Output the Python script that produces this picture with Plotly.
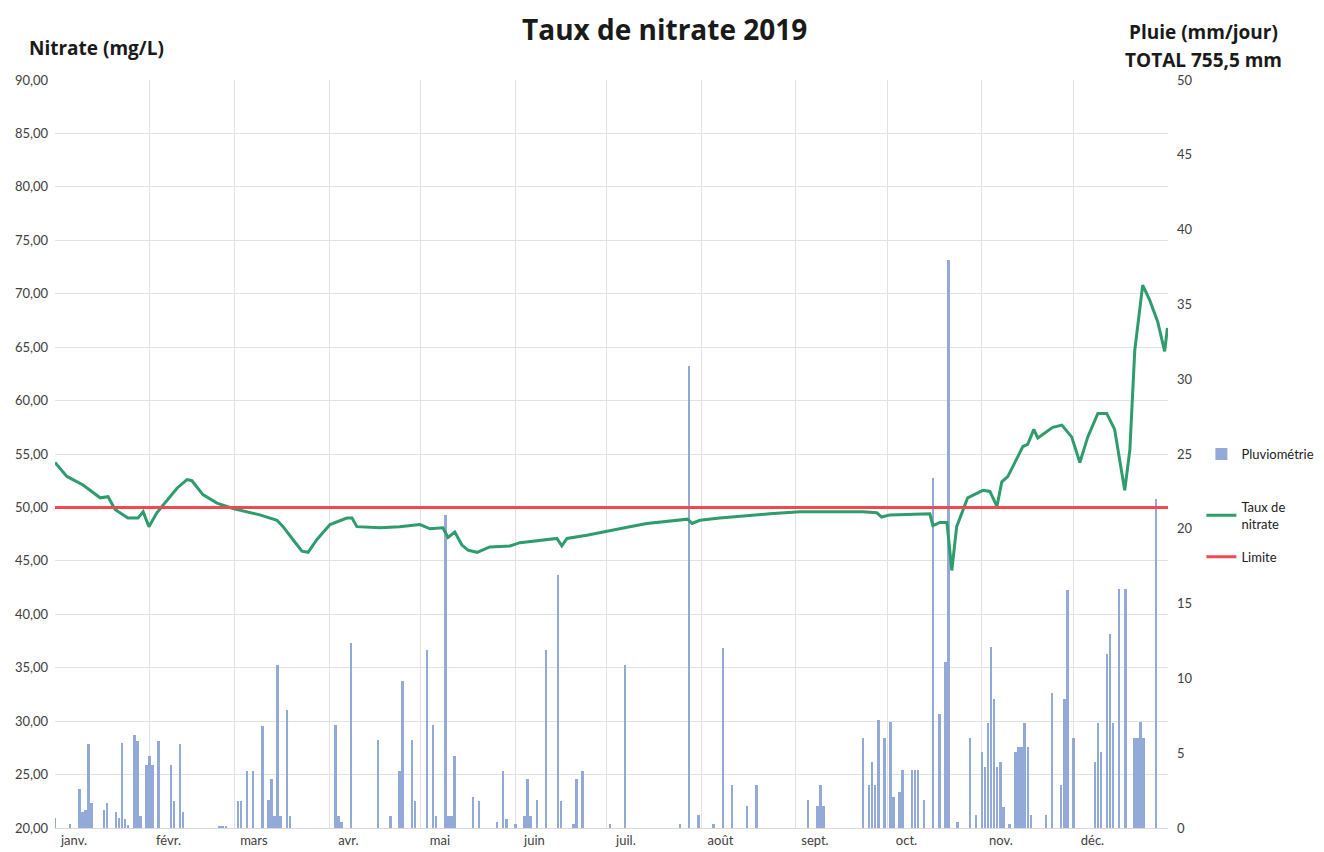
import plotly.graph_objects as go

# Jour de l'année (0 = 1er janvier 2019)
mois_debut = [0, 31, 59, 90, 120, 151, 181, 212, 243, 273, 304, 334]
mois_noms = ["janv.", "févr.", "mars", "avr.", "mai", "juin",
             "juil.", "août", "sept.", "oct.", "nov.", "déc."]

# Pluviométrie (mm/jour)
pluie_jour = [0, 5, 8, 9, 10, 11, 12, 16, 17, 20, 21, 22, 23, 24, 26, 27, 28,
              30, 31, 32, 34, 38, 39, 41, 42, 54, 55, 56, 60, 61, 63, 65, 68,
              70, 71, 72, 73, 74, 76, 77, 92, 93, 94, 97, 106, 110, 113, 114,
              117, 118, 122, 124, 125, 128, 129, 130, 131, 137, 139, 145, 147,
              148, 151, 154, 155, 156, 158, 161, 165, 166, 170, 171, 173, 182,
              187, 205, 208, 211, 216, 219, 222, 227, 230, 247, 250, 251, 252,
              265, 267, 268, 269, 270, 272, 274, 275, 277, 278, 281, 282, 283,
              285, 288, 290, 292, 293, 296, 300, 302, 304, 305, 306, 307, 308,
              309, 310, 311, 313, 315, 316, 317, 318, 319, 320, 325, 327, 330,
              331, 332, 334, 341, 342, 343, 345, 346, 347, 349, 351, 354, 355,
              356, 357, 361]
pluie_mm = [0.7, 0.3, 2.6, 1.1, 1.2, 5.6, 1.7, 1.2, 1.7, 1.1, 0.7, 5.7, 0.6, 0.2,
            6.2, 5.8, 0.8, 4.2, 4.8, 4.2, 5.8, 4.2, 1.8, 5.6, 1.1, 0.1, 0.1, 0.1,
            1.8, 1.8, 3.8, 3.8, 6.8, 1.9, 3.3, 0.8, 10.9, 0.8, 7.9, 0.8, 6.9,
            0.8, 0.4, 12.4, 5.9, 0.8, 3.8, 9.8, 5.9, 1.8, 11.9, 6.9, 0.8, 20.9,
            0.8, 0.8, 4.8, 2.1, 1.8, 0.4, 3.8, 0.6, 0.3, 0.8, 3.3, 0.8, 1.9,
            11.9, 16.9, 1.8, 0.3, 3.3, 3.8, 0.3, 10.9, 0.3, 30.9, 0.9, 0.3,
            12.0, 2.9, 1.5, 2.9, 1.9, 1.5, 2.9, 1.5, 6.0, 2.9, 4.4, 2.9, 7.2,
            6.0, 7.1, 2.1, 2.4, 3.9, 3.9, 3.9, 3.9, 1.9, 23.4, 7.6, 11.1, 38.0,
            0.4, 6.0, 0.9, 5.1, 4.1, 7.0, 12.1, 8.6, 4.1, 4.4, 1.4, 0.3, 5.1,
            5.4, 5.4, 7.0, 5.4, 0.9, 0.9, 9.0, 2.9, 8.6, 15.9, 6.0, 4.4, 7.0,
            5.1, 11.6, 13.0, 7.0, 16.0, 16.0, 6.0, 6.0, 7.1, 6.0, 22.0]

# Taux de nitrate (mg/L)
nitrate_jour = [0, 3.9, 9.2, 14.8, 17.4, 19.7, 23.9, 27.2, 28.9, 30.8, 33.4,
                36.7, 40, 43.3, 44.9, 48.5, 53.1, 58.4, 67.2, 72.8, 74.8, 78,
                81, 83, 85.9, 90.2, 95.7, 97.4, 99, 106.6, 113, 119.7, 123,
                127.2, 128.9, 131.1, 133.4, 135.4, 138.4, 142.6, 149.2, 152.5,
                161.3, 164.6, 166.2, 167.9, 174.4, 181, 188.5, 194.1, 201.6,
                207.5, 208.9, 211.5, 218, 225.6, 234.4, 244.3, 254.1, 264.9,
                269.5, 271.1, 273.8, 286.9, 287.9, 290.2, 292.5, 294.1, 295.7,
                299.3, 304.3, 306.6, 308.9, 310.5, 312.5, 317.4, 319, 321,
                322.3, 327.2, 330.2, 333.4, 336.1, 338.7, 342, 344.9, 347.5,
                350.8, 352.5, 354.1, 356.7, 359, 361.6, 363.9, 364.8]
nitrate_val = [54.2, 52.9, 52.1, 50.9, 51.0, 49.8, 49.0, 49.0, 49.6, 48.2, 49.5,
               50.7, 51.8, 52.6, 52.5, 51.2, 50.4, 49.9, 49.3, 48.8, 48.2, 47.0,
               45.9, 45.8, 47.0, 48.4, 49.0, 49.0, 48.2, 48.1, 48.2, 48.4, 48.0,
               48.1, 47.2, 47.7, 46.5, 46.0, 45.8, 46.3, 46.4, 46.7, 47.0, 47.1,
               46.4, 47.1, 47.4, 47.8, 48.2, 48.5, 48.7, 48.9, 48.5, 48.8, 49.0,
               49.2, 49.4, 49.6, 49.6, 49.6, 49.5, 49.1, 49.3, 49.4, 48.3, 48.6,
               48.6, 44.1, 48.2, 50.9, 51.6, 51.5, 50.1, 52.4, 52.9, 55.7, 55.9,
               57.3, 56.5, 57.5, 57.7, 56.6, 54.2, 56.6, 58.8, 58.8, 57.3, 51.6,
               55.4, 64.7, 70.8, 69.4, 67.4, 64.6, 66.8]

limite_jour = [0, 365]
limite_val = [50, 50]

police = "Lato, 'Open Sans', sans-serif"
police_titre = "'Open Sans', Lato, sans-serif"

fig = go.Figure()
fig.add_trace(go.Bar(x=pluie_jour, y=pluie_mm, name="Pluviométrie", width=0.8,
                     marker=dict(color="#93AAD8", line=dict(width=0)),
                     yaxis="y", legendgroup="a"))
fig.add_trace(go.Scatter(x=nitrate_jour, y=nitrate_val, name="Taux de<br>nitrate",
                         mode="lines", line=dict(color="#2E9C6C", width=3),
                         yaxis="y2", legendgroup="b"))
fig.add_trace(go.Scatter(x=limite_jour, y=limite_val, name="Limite", mode="lines",
                         line=dict(color="#F2484F", width=3),
                         yaxis="y2", legend="legend2"))

fig.update_layout(
    width=1324, height=852,
    margin=dict(l=55, r=156, t=80, b=24, autoexpand=False),
    paper_bgcolor="white", plot_bgcolor="white",
    separators=", ",
    font=dict(family=police, size=13, color="#404040"),
    title=dict(text="<b>Taux de nitrate 2019</b>", x=0.502, xref="container",
               y=0.965, yanchor="middle",
               font=dict(family=police_titre, size=28, color="#1a1a1a")),
    xaxis=dict(range=[0, 365], tickvals=mois_debut, ticktext=mois_noms,
               ticklabelshift=19, showgrid=True, gridcolor="#e2e2e2",
               showline=True, linecolor="#d9d9d9", ticks="", zeroline=False,
               automargin=False, tickfont=dict(size=13)),
    yaxis=dict(range=[0, 50], dtick=5, side="right", showgrid=False,
               zeroline=False, ticks="", automargin=False, ticklabelstandoff=8,
               tickfont=dict(size=13)),
    yaxis2=dict(range=[20, 90], dtick=5, tickformat=".2f", side="left",
                overlaying="y", showgrid=True, gridcolor="#e2e2e2",
                zeroline=False, ticks="", automargin=False, ticklabelstandoff=6,
                tickfont=dict(size=13)),
    legend=dict(x=1.03, xanchor="left", y=0.52, yanchor="top",
                traceorder="grouped", tracegroupgap=33,
                font=dict(size=13, color="#222"), itemwidth=30),
    legend2=dict(x=1.03, xanchor="left", y=0.3625, yanchor="middle",
                 font=dict(size=13, color="#222"), itemwidth=30),
    bargap=0,
    showlegend=True,
)

fig.add_annotation(text="<b>Nitrate (mg/L)</b>", xref="paper", yref="paper",
                   x=-0.025, y=1.043, xanchor="left", yanchor="middle",
                   showarrow=False,
                   font=dict(family=police_titre, size=19, color="#1a1a1a"))
fig.add_annotation(text="<b>Pluie (mm/jour)</b>", xref="paper", yref="paper",
                   x=1.0323, y=1.064, xanchor="center", yanchor="middle",
                   showarrow=False,
                   font=dict(family=police_titre, size=19, color="#1a1a1a"))
fig.add_annotation(text="<b>TOTAL 755,5 mm</b>", xref="paper", yref="paper",
                   x=1.0323, y=1.027, xanchor="center", yanchor="middle",
                   showarrow=False,
                   font=dict(family=police_titre, size=19, color="#1a1a1a"))

# la page HTML ajoute une marge de 8px au body : on la supprime
fig.write_html("out.html", config={"displayModeBar": False},
               post_script="document.body.style.margin='0';")
